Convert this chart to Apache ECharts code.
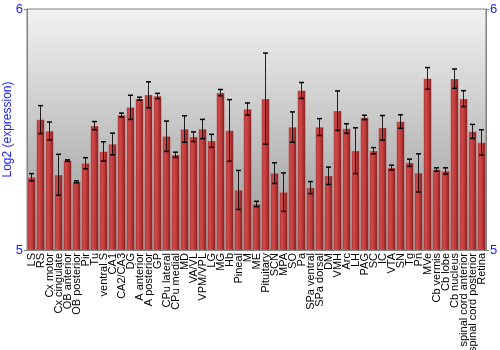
<!DOCTYPE html>
<html><head><meta charset="utf-8">
<script src="https://cdn.jsdelivr.net/npm/echarts@6/dist/echarts.min.js"></script>
<style>html,body{margin:0;padding:0;background:#fff}#c{width:500px;height:350px}</style>
</head><body><div id="c"></div>
<script>
const categories = ["LS","RS","Cx motor","Cx cingulate","OB anterior","OB posterior","Pir","Tu","ventral S","CA1","CA2/CA3","DG","A anterior","A posterior","GP","CPu lateral","CPu medial","MD","VA/VL","VPM/VPL","LG","MG","Hb","Pineal","M","ME","Pituitary","SCN","MPA","SO","Pa","SPa ventral","SPa dorsal","DM","VMH","Arc","LH","PAG","SC","IC","VTA","SN","Tg","Pn","MVe","Cb vermis","Cb lobe","Cb nucleus","spinal cord anterior","spinal cord posterior","Retina"];
const values = [5.302,5.541,5.494,5.312,5.371,5.283,5.360,5.516,5.409,5.440,5.560,5.592,5.628,5.644,5.639,5.472,5.395,5.502,5.470,5.502,5.453,5.653,5.496,5.249,5.585,5.191,5.628,5.319,5.240,5.510,5.662,5.259,5.510,5.308,5.578,5.504,5.412,5.550,5.412,5.507,5.342,5.533,5.362,5.320,5.712,5.334,5.328,5.711,5.628,5.492,5.446];
const errors = [0.015,0.058,0.037,0.085,0.003,0.004,0.023,0.017,0.040,0.045,0.008,0.050,0.006,0.054,0.011,0.063,0.011,0.055,0.020,0.040,0.027,0.013,0.128,0.081,0.025,0.011,0.189,0.043,0.080,0.063,0.033,0.025,0.035,0.036,0.082,0.020,0.095,0.009,0.013,0.051,0.010,0.028,0.015,0.079,0.045,0.007,0.013,0.040,0.033,0.029,0.053];
const yTicks = [5, 6];

const chart = echarts.init(document.getElementById('c'), null, {renderer: 'canvas'});
const blue = '#1a1aff';
const errData = categories.map((c, i) => [i, values[i] - errors[i], values[i] + errors[i]]);
const yAxisBase = {
  type: 'value', min: yTicks[0], max: yTicks[1], interval: 1,
  axisLine: {show: true, lineStyle: {color: '#808080', width: 1}},
  axisTick: {show: true, length: 3, lineStyle: {color: '#808080'}},
  splitLine: {show: false},
  axisLabel: {color: blue, fontSize: 13, fontFamily: 'Liberation Sans', margin: 4}
};
chart.setOption({
  animation: false,
  grid: {
    left: 27, right: 14, top: 9, bottom: 100, show: true,
    containLabel: false, outerBoundsMode: 'none',
    borderColor: '#808080', borderWidth: 1,
    backgroundColor: new echarts.graphic.LinearGradient(0, 0, 0, 1, [
      {offset: 0, color: '#f2f2f2'}, {offset: 1, color: '#979797'}
    ])
  },
  xAxis: {
    type: 'category', data: categories,
    axisLine: {show: true, lineStyle: {color: '#808080'}},
    axisTick: {show: false},
    axisLabel: {rotate: 90, interval: 0, fontSize: 11, color: '#000', fontFamily: 'Liberation Sans', margin: 3}
  },
  yAxis: [
    Object.assign({}, yAxisBase, {position: 'left', name: 'Log2 (expression)', nameLocation: 'middle', nameGap: 13,
      nameMoveOverlap: false,
      nameTextStyle: {color: blue, fontSize: 12, fontFamily: 'Liberation Sans'}}),
    Object.assign({}, yAxisBase, {position: 'right'})
  ],
  series: [
    {
      type: 'bar', data: values, barCategoryGap: '11%',
      itemStyle: {
        color: new echarts.graphic.LinearGradient(0, 0, 1, 0, [
          {offset: 0, color: '#a52f2f'}, {offset: 0.3, color: '#d04a4a'},
          {offset: 0.65, color: '#b83636'}, {offset: 1, color: '#781616'}
        ]),
        borderColor: 'rgba(255,200,200,0.35)', borderWidth: 0.5
      }
    },
    {
      type: 'custom', data: errData, encode: {x: 0, y: [1, 2]}, z: 5,
      renderItem: function (params, api) {
        const lo = api.coord([api.value(0), api.value(1)]);
        const hi = api.coord([api.value(0), api.value(2)]);
        const w = 2.5;
        const style = {stroke: 'rgba(0,0,0,0.85)', lineWidth: 1};
        return {type: 'group', children: [
          {type: 'line', shape: {x1: lo[0], y1: lo[1], x2: hi[0], y2: hi[1]}, style: style},
          {type: 'line', shape: {x1: lo[0] - w, y1: lo[1], x2: lo[0] + w, y2: lo[1]}, style: {stroke: '#000', lineWidth: 1.5}},
          {type: 'line', shape: {x1: hi[0] - w, y1: hi[1], x2: hi[0] + w, y2: hi[1]}, style: {stroke: '#000', lineWidth: 1.5}}
        ]};
      }
    }
  ]
});
</script>
</body></html>
